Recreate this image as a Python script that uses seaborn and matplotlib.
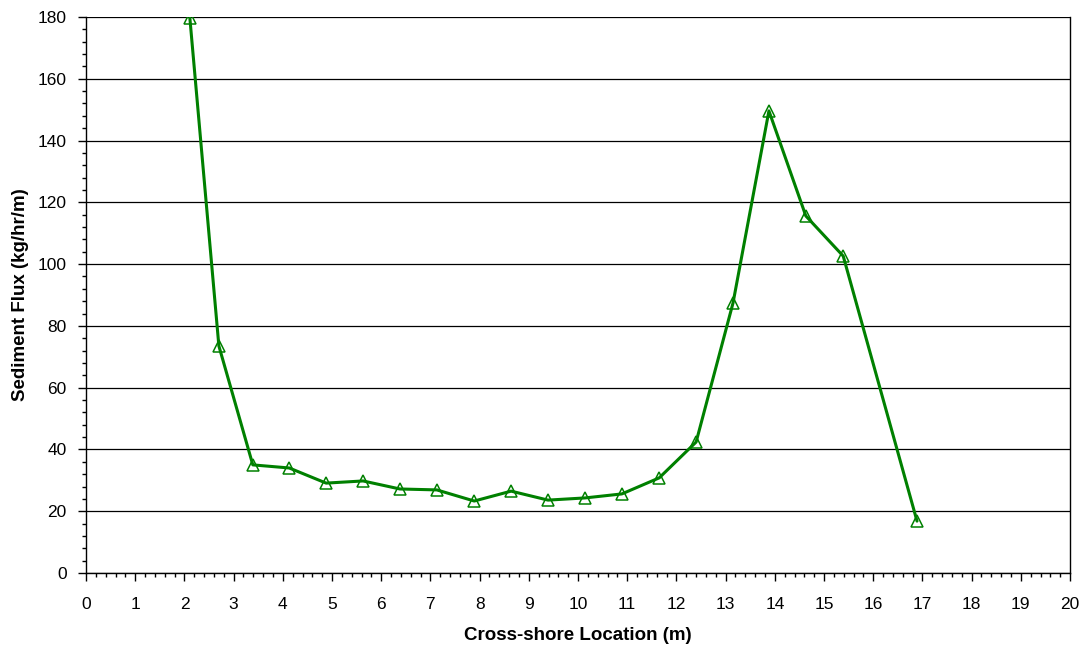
import numpy as np
import pandas as pd
import seaborn as sns
import matplotlib.pyplot as plt
from matplotlib.ticker import MultipleLocator

# Data
location_m = [2.11, 2.70, 3.39, 4.13, 4.88, 5.63, 6.38, 7.13, 7.89, 8.64,
              9.39, 10.14, 10.89, 11.65, 12.40, 13.15, 13.88, 14.63, 15.39, 16.89]
flux_kg_hr_m = [179.7, 73.5, 35.0, 34.0, 29.1, 29.8, 27.2, 26.9, 23.3, 26.5,
                23.6, 24.3, 25.6, 30.8, 42.4, 87.4, 149.6, 115.6, 102.6, 16.8]

df = pd.DataFrame({"Location": location_m, "Flux": flux_kg_hr_m})

sns.set_style("white")
plt.rcParams["font.family"] = ["Liberation Sans", "DejaVu Sans"]
plt.rcParams["text.color"] = "black"
plt.rcParams["axes.labelcolor"] = "black"
plt.rcParams["xtick.color"] = "black"
plt.rcParams["ytick.color"] = "black"

fig = plt.figure(figsize=(10.85, 6.46), dpi=100)
ax = fig.add_axes([0.0793, 0.1130, 0.9069, 0.8607])

ax.yaxis.grid(True, color="black", linewidth=0.9)
ax.set_axisbelow(True)

sns.lineplot(data=df, x="Location", y="Flux", ax=ax, color="#008000",
             linewidth=2.2, marker="^", markersize=8,
             markerfacecolor="none", markeredgecolor="#008000",
             markeredgewidth=1.1, sort=False)

ax.set_xlim(0, 20)
ax.set_ylim(0, 180)
ax.xaxis.set_major_locator(MultipleLocator(1))
ax.xaxis.set_minor_locator(MultipleLocator(0.2))
ax.yaxis.set_major_locator(MultipleLocator(20))
ax.yaxis.set_minor_locator(MultipleLocator(4))
ax.tick_params(axis="both", which="major", direction="out", length=6,
               width=1, color="black", labelcolor="black", labelsize=12.5,
               pad=8, bottom=True, left=True)
ax.tick_params(axis="x", which="major", pad=11)
ax.tick_params(axis="both", which="minor", direction="out", length=3,
               width=1, color="black", bottom=True, left=True)

for side in ["left", "bottom", "right"]:
    ax.spines[side].set_visible(True)
    ax.spines[side].set_color("black")
    ax.spines[side].set_linewidth(1)
ax.spines["top"].set_visible(False)

ax.set_xlabel("Cross-shore Location (m)", fontsize=13.5, fontweight="bold",
              color="black", labelpad=11)
ax.set_ylabel("Sediment Flux (kg/hr/m)", fontsize=13.5, fontweight="bold",
              color="black", labelpad=6)

fig.savefig("out.png", dpi=100)
